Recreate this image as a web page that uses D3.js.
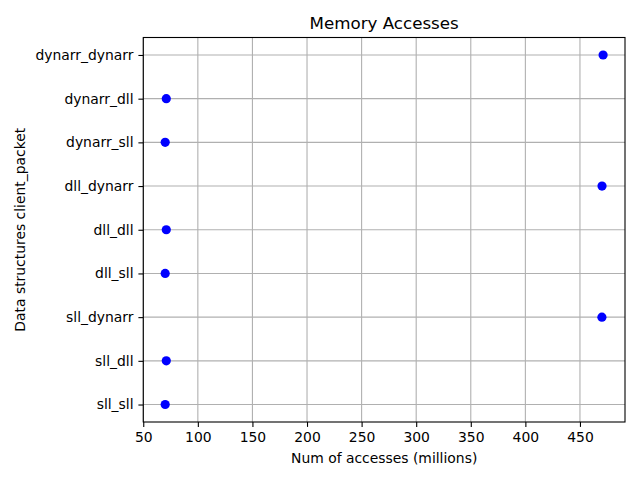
<!DOCTYPE html>
<html><head><meta charset="utf-8">
<script src="https://cdn.jsdelivr.net/npm/d3@7"></script>
<style>body{margin:0;background:#fff}svg text{font-family:"DejaVu Sans",sans-serif;}</style>
</head><body>
<svg id="c" width="640" height="480"></svg>
<script>
const categories = ["sll_sll","sll_dll","sll_dynarr","dll_sll","dll_dll","dll_dynarr","dynarr_sll","dynarr_dll","dynarr_dynarr"];
const accesses = [70.1, 71.1, 470.1, 70.1, 71.1, 470.2, 70.1, 71.1, 471.2];
const xTicks = [50,100,150,200,250,300,350,400,450];
const title = "Memory Accesses";
const xLabel = "Num of accesses (millions)";
const yLabel = "Data structures client_packet";

const svg = d3.select("#c");
const L = 143.3, R = 625, T = 37.5, B = 422;
const mn = d3.min(accesses), mx = d3.max(accesses), m = (mx - mn) * 0.05;
const x = d3.scaleLinear().domain([mn - m, mx + m]).range([L, R]);
const y = d3.scaleLinear().domain([-0.4, categories.length - 1 + 0.4]).range([B, T]);

const g = svg.append("g");
// grid
g.selectAll(".gx").data(xTicks).enter().append("line")
  .attr("x1", d => x(d)).attr("x2", d => x(d)).attr("y1", T).attr("y2", B)
  .attr("stroke", "#b0b0b0").attr("stroke-width", 1.1);
g.selectAll(".gy").data(categories).enter().append("line")
  .attr("y1", (d, i) => y(i)).attr("y2", (d, i) => y(i)).attr("x1", L).attr("x2", R)
  .attr("stroke", "#b0b0b0").attr("stroke-width", 1.1);

// points
g.selectAll("circle").data(accesses).enter().append("circle")
  .attr("cx", d => x(d)).attr("cy", (d, i) => y(i)).attr("r", 4.6).attr("fill", "#0000ff");

// axes
const xAxis = d3.axisBottom(x).tickValues(xTicks).tickSize(4.9).tickPadding(4.9).tickFormat(d3.format("d"));
const ax = svg.append("g").attr("transform", `translate(0,${B})`).call(xAxis);
const yAxis = d3.axisLeft(y).tickValues(d3.range(categories.length)).tickSize(4.9).tickPadding(4.9).tickFormat(i => categories[i]);
const ay = svg.append("g").attr("transform", `translate(${L},0)`).call(yAxis);
[ax, ay].forEach(a => {
  a.select(".domain").remove();
  a.selectAll(".tick line").attr("stroke", "#000").attr("stroke-width", 1.1);
  a.selectAll(".tick text").attr("fill", "#000").style("font-size", "13.9px").style("font-family", "DejaVu Sans");
});

// frame
svg.append("rect").attr("x", L).attr("y", T).attr("width", R - L).attr("height", B - T)
  .attr("fill", "none").attr("stroke", "#000").attr("stroke-width", 1.1);

// labels
svg.append("text").attr("x", (L + R) / 2).attr("y", 29).attr("text-anchor", "middle")
  .style("font-size", "16.7px").text(title);
svg.append("text").attr("x", (L + R) / 2).attr("y", 463).attr("text-anchor", "middle")
  .style("font-size", "13.9px").text(xLabel);
svg.append("text").attr("transform", `translate(25,${(T + B) / 2}) rotate(-90)`).attr("text-anchor", "middle")
  .style("font-size", "13.9px").text(yLabel);
</script>
</body></html>
